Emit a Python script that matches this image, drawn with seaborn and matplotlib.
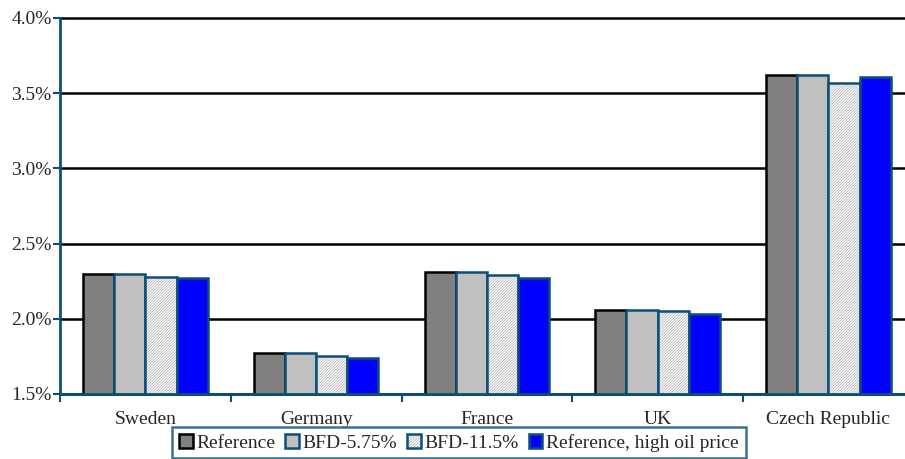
import numpy as np
import pandas as pd
import matplotlib
matplotlib.use("Agg")
from matplotlib import pyplot as plt
from matplotlib import colors as mcolors
from matplotlib.ticker import FuncFormatter, MultipleLocator, FixedLocator
import seaborn as sns

# Chart data
countries = ["Sweden", "Germany", "France", "UK", "Czech Republic"]
scenarios = ["Reference", "BFD-5.75%", "BFD-11.5%", "Reference, high oil price"]
reference = [2.30, 1.77, 2.31, 2.06, 3.62]
bfd_575 = [2.30, 1.77, 2.31, 2.06, 3.62]
bfd_115 = [2.28, 1.75, 2.29, 2.05, 3.57]
high_oil = [2.27, 1.74, 2.27, 2.03, 3.61]

df = pd.DataFrame({
    "Country": countries * 4,
    "Scenario": np.repeat(scenarios, len(countries)),
    "Value": reference + bfd_575 + bfd_115 + high_oil,
})

sns.set_style("white")
plt.rcParams["font.family"] = ["Liberation Serif", "DejaVu Serif"]
plt.rcParams["hatch.linewidth"] = 0.5

blue_edge = "#0b4f77"
fills = ["#808080", "#c0c0c0", "#ffffff", "#0000ff"]
edges = ["black", blue_edge, blue_edge, blue_edge]

fig = plt.figure(figsize=(9.05, 4.59), dpi=100)
ax = fig.add_axes([60 / 905, 1 - 394 / 459, 853.75 / 905, (394 - 18) / 459])

sns.barplot(data=df, x="Country", y="Value", hue="Scenario", order=countries,
            hue_order=scenarios, palette=fills, width=0.73, ax=ax,
            saturation=1, legend=False, zorder=3)

# Style each series
for i, container in enumerate(ax.containers):
    for p in container.patches:
        p.set_facecolor(fills[i])
        p.set_edgecolor(edges[i])
        p.set_linewidth(1.8)
        if i == 2:
            p.set_hatch("////////////")
            p._hatch_color = mcolors.to_rgba("#a8a8a8")

ax.set_ylim(1.5, 4.0)
ax.set_xlim(-0.5, 4.5)
ax.yaxis.set_major_locator(MultipleLocator(0.5))
ax.yaxis.set_major_formatter(FuncFormatter(lambda v, _: f"{v:.1f}%"))
ax.grid(axis="y", color="black", linewidth=1.8, zorder=0)
for gl in ax.get_ygridlines():
    gl.set_clip_on(False)
ax.set_axisbelow(True)

ax.xaxis.set_minor_locator(FixedLocator(np.arange(-0.5, 5, 1)))
ax.tick_params(axis="x", which="major", length=0, pad=12, labelsize=14)
ax.tick_params(axis="x", which="minor", length=6, width=1.5, color=blue_edge,
               direction="out", bottom=True)
ax.tick_params(axis="y", length=5, width=1.5, color=blue_edge, left=True,
               direction="out", labelsize=14, pad=1)
ax.set_xlabel("")
ax.set_ylabel("")

for side in ["top", "right"]:
    ax.spines[side].set_visible(False)
for side in ["left", "bottom"]:
    ax.spines[side].set_color(blue_edge)
    ax.spines[side].set_linewidth(2)
    ax.spines[side].set_zorder(5)

leg = fig.legend(ax.containers, scenarios, loc="upper center", ncol=4,
                 bbox_to_anchor=(459 / 905, 1 - 427 / 459), frameon=True,
                 fancybox=False, fontsize=14, handlelength=0.7,
                 handleheight=0.7, handletextpad=0.2, columnspacing=0.5,
                 borderpad=0.35, borderaxespad=0)
leg.get_frame().set_edgecolor(blue_edge)
leg.get_frame().set_linewidth(1.8)

fig.savefig("out.png", dpi=100)
